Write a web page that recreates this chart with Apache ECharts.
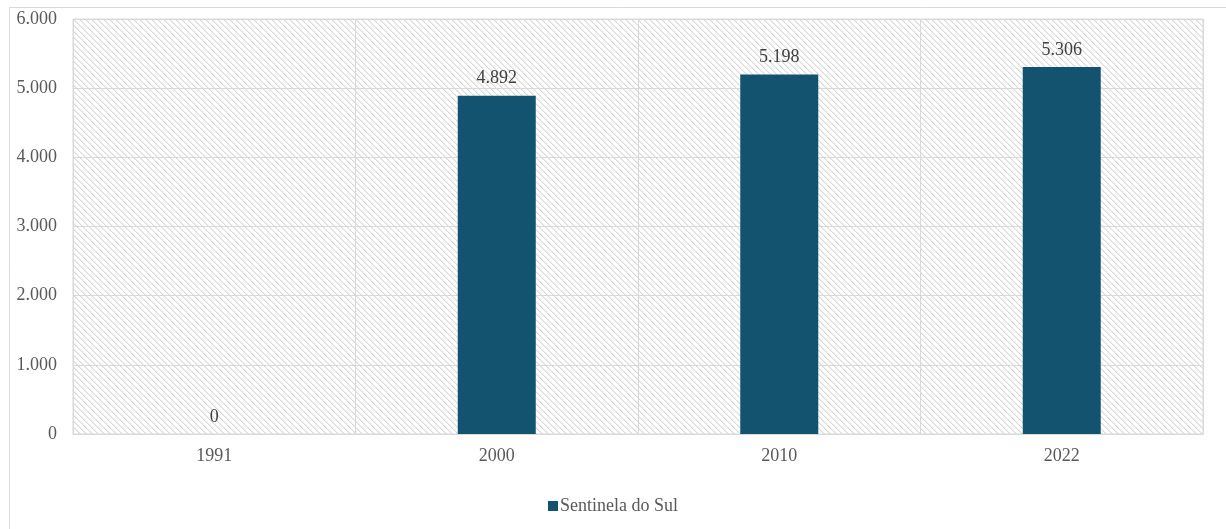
<!DOCTYPE html>
<html>
<head>
<meta charset="utf-8">
<script src="https://cdn.jsdelivr.net/npm/echarts@6/dist/echarts.min.js"></script>
<style>
  html, body { margin: 0; padding: 0; background: #fff; }
  #main { width: 1226px; height: 529px; }
</style>
</head>
<body>
<div id="main"></div>
<script>
var years = ['1991', '2000', '2010', '2022']
var populacao = [0, 4892, 5198, 5306]
var serieNome = 'Sentinela do Sul'

// separador de milhar com ponto
function fmt (v) {
  return String(Math.round(v)).replace(/\B(?=(\d{3})+(?!\d))/g, '.')
}

// hachura diagonal do fundo da área de plotagem
var n = 6
var tile = document.createElement('canvas')
tile.width = n
tile.height = n
var ctx = tile.getContext('2d')
ctx.fillStyle = '#ffffff'
ctx.fillRect(0, 0, n, n)
for (var i = 0; i < n; i++) {
  ctx.fillStyle = '#d9d9d9'
  ctx.fillRect(i, i, 1, 1)
  ctx.fillStyle = '#eeeeee'
  ctx.fillRect((i + 1) % n, i, 1, 1)
}

var font = 'Liberation Serif'
var chart = echarts.init(document.getElementById('main'))
chart.setOption({
  backgroundColor: '#fff',
  animation: false,
  textStyle: { fontFamily: font },
  graphic: [{
    type: 'rect',
    silent: true,
    shape: { x: 9.5, y: 7.5, width: 1400, height: 700 },
    style: { fill: 'none', stroke: '#d9d9d9', lineWidth: 1 }
  }],
  grid: {
    left: 73,
    right: 23,
    top: 19,
    bottom: 95,
    show: true,
    borderColor: '#d9d9d9',
    borderWidth: 1,
    backgroundColor: { image: tile, repeat: 'repeat' }
  },
  legend: {
    bottom: 9,
    left: 'center',
    icon: 'rect',
    itemWidth: 10,
    itemHeight: 10,
    itemGap: 4,
    textStyle: { fontFamily: font, fontSize: 18, color: '#595959', padding: [0, 0, 0, -3] },
    data: [serieNome]
  },
  xAxis: {
    type: 'category',
    data: years,
    axisLine: { lineStyle: { color: '#d9d9d9' } },
    axisTick: { show: false },
    axisLabel: { fontFamily: font, fontSize: 18, color: '#595959', margin: 13 },
    splitLine: { show: true, lineStyle: { color: '#d9d9d9' } }
  },
  yAxis: {
    type: 'value',
    min: 0,
    max: 6000,
    interval: 1000,
    axisLine: { show: false },
    axisTick: { show: false },
    axisLabel: { fontFamily: font, fontSize: 18, color: '#595959', margin: 16, formatter: fmt },
    splitLine: { lineStyle: { color: '#d9d9d9' } }
  },
  series: [{
    name: serieNome,
    type: 'bar',
    data: populacao,
    barWidth: 78,
    itemStyle: { color: '#14536f' },
    label: {
      show: true,
      position: 'top',
      distance: 8,
      fontFamily: font,
      fontSize: 18,
      color: '#404040',
      formatter: function (p) { return fmt(p.value) }
    }
  }]
})
</script>
</body>
</html>
